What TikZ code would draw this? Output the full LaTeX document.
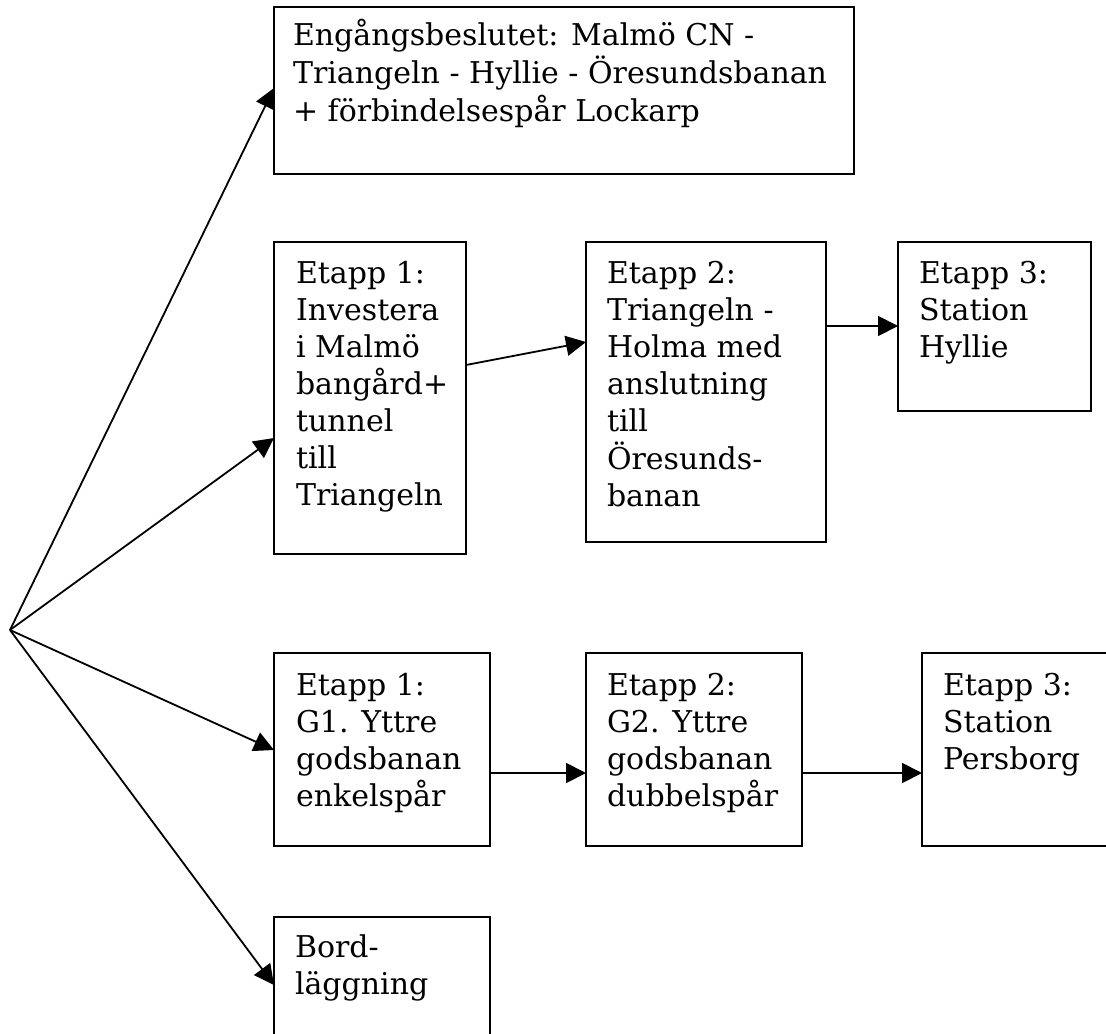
\documentclass[tikz,border=0pt]{standalone}
\usepackage{fontspec}
\setmainfont{DejaVu Serif}
\usetikzlibrary{arrows.meta,calc}
\newcommand{\boxlines}[1]{\begin{tabular}[t]{@{}l@{}}#1\end{tabular}}
\tikzset{
  frame/.style 2 args={draw=black, line width=1pt, anchor=north west, inner sep=0pt, outer sep=0pt,
    minimum width=#1*0.5pt, minimum height=#2*0.5pt},
  txt/.style={anchor=base west, inner sep=0pt, outer sep=0pt,
    font=\fontsize{15pt}{18.5pt}\selectfont},
  arr/.style={line width=0.9pt, -{Triangle[length=10pt,width=10pt]}},
}
\begin{document}
\begin{tikzpicture}[x=0.5pt,y=-0.5pt]
\clip (0,0) rectangle (1106,1033);
\fill[white] (0,0) rectangle (1106,1033);
% boxes
\node[frame={580}{167}] (top) at (274,7) {};
\node[frame={192}{312}] (e1) at (274,242) {};
\node[frame={240}{300}] (e2) at (586,242) {};
\node[frame={193}{169}] (e3) at (898,242) {};
\node[frame={216}{193}] (g1) at (274,653) {};
\node[frame={216}{193}] (g2) at (586,653) {};
\node[frame={300}{193}] (p3) at (922,653) {};
\node[frame={216}{200}] (bord) at (274,917) {};
% texts
\node[txt] (ttop) at ($(top.north west)+(19,38)$) {\boxlines{Engångsbeslutet: Malmö CN -\\Triangeln - Hyllie - Öresundsbanan\\+ förbindelsespår Lockarp}};
\node[txt] (te1) at ($(e1.north west)+(22,41)$) {\boxlines{Etapp 1:\\Investera\\i Malmö\\bangård+\\tunnel\\till\\Triangeln}};
\node[txt] (te2) at ($(e2.north west)+(21,41)$) {\boxlines{Etapp 2:\\Triangeln -\\Holma med\\anslutning\\till\\Öresunds-\\banan}};
\node[txt] (te3) at ($(e3.north west)+(21,41)$) {\boxlines{Etapp 3:\\Station\\Hyllie}};
\node[txt] (tg1) at ($(g1.north west)+(22,42)$) {\boxlines{Etapp 1:\\G1. Yttre\\godsbanan\\enkelspår}};
\node[txt] (tg2) at ($(g2.north west)+(21,42)$) {\boxlines{Etapp 2:\\G2. Yttre\\godsbanan\\dubbelspår}};
\node[txt] (tp3) at ($(p3.north west)+(21,42)$) {\boxlines{Etapp 3:\\Station\\Persborg}};
\node[txt] (tbord) at ($(bord.north west)+(21,40)$) {\boxlines{Bord-\\läggning}};
% connectors
\coordinate (hub) at (10,630);
\draw[arr] (hub) -- ($(top.north west)+(0,81)$);
\draw[arr] (hub) -- ($(e1.north west)+(0,196)$);
\draw[arr] (hub) -- ($(g1.north west)+(0,97)$);
\draw[arr] (hub) -- ($(bord.north west)+(0,68)$);
\draw[arr] ($(e1.north east)+(0,123)$) -- ($(e2.north west)+(0,100)$);
\draw[arr] ($(e2.north east)+(0,84)$) -- ($(e3.north west)+(0,84)$);
\draw[arr] ($(g1.north east)+(0,120)$) -- ($(g2.north west)+(0,120)$);
\draw[arr] ($(g2.north east)+(0,120)$) -- ($(p3.north west)+(0,120)$);
\end{tikzpicture}
\end{document}
